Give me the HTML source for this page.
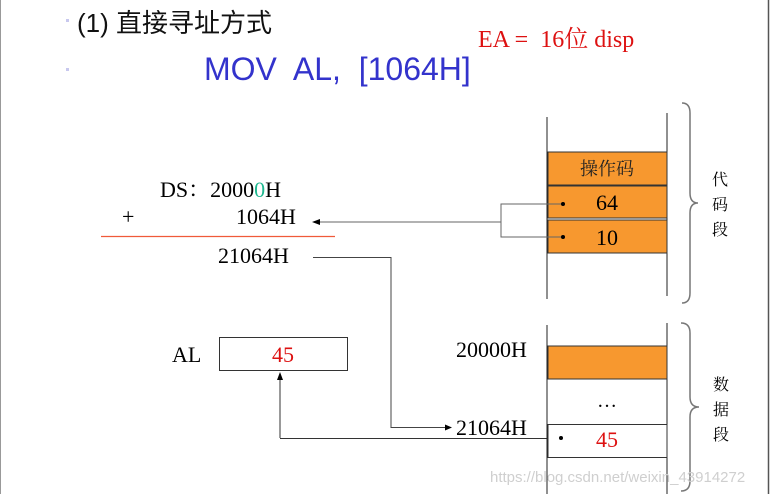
<!DOCTYPE html>
<html><head><meta charset="utf-8"><style>
html,body{margin:0;padding:0;background:#fff;}
svg{display:block;}
.s{font-family:"Liberation Serif","Noto Serif CJK SC",serif;}
.c{font-family:"Noto Serif CJK SC","Noto Sans CJK SC",serif;}
</style></head><body>
<svg width="771" height="494" viewBox="0 0 771 494" xmlns="http://www.w3.org/2000/svg">
<line x1="768.5" y1="0" x2="768.5" y2="494" stroke="#555" stroke-width="1.5"/>
<line x1="0.5" y1="0" x2="0.5" y2="494" stroke="#999" stroke-width="1"/>
<rect x="66" y="19" width="3" height="3" fill="#c8c8ee"/>
<rect x="66" y="68" width="3" height="3" fill="#c8c8ee"/>
<text x="77" y="32" font-family="Liberation Sans,Noto Sans CJK SC,sans-serif" font-size="26" fill="#111">(1) 直接寻址方式</text>
<text x="204" y="80" font-family="Liberation Sans,sans-serif" font-size="32" fill="#3333cc" xml:space="preserve">MOV  AL,  [1064H]</text>
<text x="478" y="47" class="s" font-size="24" fill="#dd1111" xml:space="preserve">EA =  16位 disp</text>

<!-- code stack -->
<line x1="547" y1="117" x2="547" y2="299" stroke="#222"/>
<line x1="667" y1="113" x2="667" y2="296" stroke="#222"/>
<rect x="548" y="152" width="119" height="33" fill="#f7982f" stroke="#333"/>
<rect x="548" y="186" width="119" height="32" fill="#f7982f" stroke="#333"/>
<rect x="548" y="220" width="119" height="33" fill="#f7982f" stroke="#333"/>
<text x="607" y="175" text-anchor="middle" class="c" font-size="18" fill="#222">操作码</text>
<text x="607" y="210" text-anchor="middle" class="s" font-size="22">64</text>
<text x="607" y="245" text-anchor="middle" class="s" font-size="22">10</text>
<circle cx="563" cy="204" r="2" fill="#000"/>
<circle cx="563" cy="237" r="2" fill="#000"/>
<path d="M561 204H501V237H561M501 222H318" fill="none" stroke="#666"/>
<path d="M312 222l8-3v6z" fill="#000"/>
<path d="M682 103q8 0 8 10v80q0 10 8 10q-8 0-8 10v80q0 10-8 10" fill="none" stroke="#777" stroke-width="1.5"/>
<text x="720" y="185" text-anchor="middle" class="c" font-size="16">代</text>
<text x="720" y="210" text-anchor="middle" class="c" font-size="16">码</text>
<text x="720" y="235" text-anchor="middle" class="c" font-size="16">段</text>

<!-- calc -->
<text x="160" y="197" class="s" font-size="22">DS：2000<tspan fill="#20b890">0</tspan>H</text>
<text x="122" y="224" class="s" font-size="22">+</text>
<text x="236" y="224" class="s" font-size="22">1064H</text>
<line x1="101" y1="236.5" x2="335" y2="236.5" stroke="#f05a3a" stroke-width="1.3"/>
<text x="218" y="263" class="s" font-size="22">21064H</text>
<path d="M313 257.5H391V427.5H446" fill="none" stroke="#444"/>
<path d="M452 427.5l-7-3v6z" fill="#000"/>

<!-- AL -->
<text x="172" y="362" class="s" font-size="22">AL</text>
<rect x="219.5" y="337.5" width="128" height="33" fill="#fff" stroke="#333"/>
<text x="283" y="362" text-anchor="middle" class="s" font-size="22" fill="#dd1111">45</text>
<path d="M280 438V378M280 438.5H561" fill="none" stroke="#333"/>
<path d="M280 372l-3 8h6z" fill="#000"/>

<!-- data stack -->
<line x1="547" y1="325" x2="547" y2="494" stroke="#222"/>
<line x1="667" y1="323" x2="667" y2="494" stroke="#222"/>
<rect x="548" y="346" width="119" height="33" fill="#f7982f" stroke="#333"/>
<rect x="548" y="424.5" width="119" height="33" fill="#fff" stroke="#333"/>
<text x="607" y="407" text-anchor="middle" class="s" font-size="20">…</text>
<text x="607" y="447" text-anchor="middle" class="s" font-size="22" fill="#dd1111">45</text>
<circle cx="561" cy="438" r="2" fill="#000"/>
<text x="456" y="357" class="s" font-size="22">20000H</text>
<text x="456" y="435" class="s" font-size="22">21064H</text>
<path d="M681 323q9 0 9 10v64q0 10 9 10q-9 0-9 10v64q0 10-9 10" fill="none" stroke="#777" stroke-width="1.5"/>
<text x="721" y="390" text-anchor="middle" class="c" font-size="16">数</text>
<text x="721" y="415" text-anchor="middle" class="c" font-size="16">据</text>
<text x="721" y="440" text-anchor="middle" class="c" font-size="16">段</text>

<text x="490" y="482" font-family="Liberation Sans,sans-serif" font-size="15" fill="#cfcfcf">https://blog.csdn.net/weixin_43914272</text>
</svg>
</body></html>
